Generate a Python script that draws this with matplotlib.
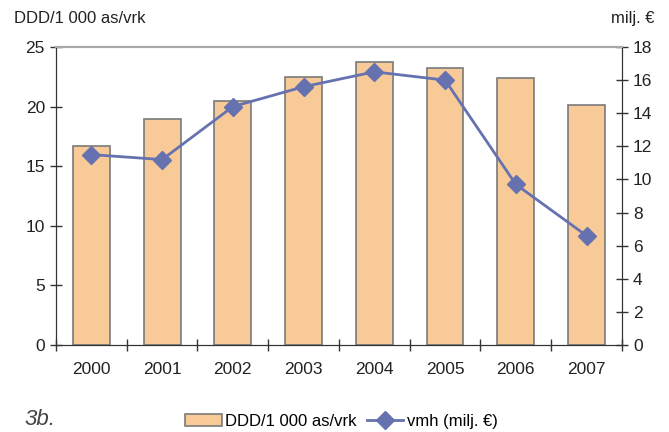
import numpy as np
import matplotlib.pyplot as plt
from matplotlib.ticker import FixedLocator

plt.rcParams['font.family'] = ['Liberation Sans', 'DejaVu Sans']

vuodet = ['2000', '2001', '2002', '2003', '2004', '2005', '2006', '2007']
ddd = [16.7, 19.0, 20.5, 22.5, 23.7, 23.2, 22.4, 20.1]
vmh = [11.5, 11.2, 14.4, 15.6, 16.5, 16.0, 9.7, 6.6]

teksti = '#222222'
fig = plt.figure(figsize=(6.69, 4.32), dpi=100)
ax = fig.add_axes([0.0837, 0.2014, 0.846, 0.6898])
x = np.arange(len(vuodet))

palkit = ax.bar(x, ddd, width=0.52, color='#F7CA98', edgecolor='#7a7a7a',
                linewidth=1.2, label='DDD/1 000 as/vrk', zorder=2)
ax.set_xlim(-0.5, len(vuodet) - 0.5)
ax.set_ylim(0, 25)
ax.set_yticks(np.arange(0, 26, 5))
ax.set_xticks(x)
ax.set_xticklabels(vuodet)
ax.xaxis.set_minor_locator(FixedLocator(np.arange(-0.5, len(vuodet), 1)))
ax.tick_params(axis='x', which='major', length=0, pad=12, labelsize=12.5, colors=teksti)
ax.tick_params(axis='x', which='minor', length=8, direction='inout', width=1, color='#333333')
ax.tick_params(axis='y', length=8, direction='inout', width=1, labelsize=12.5,
               colors=teksti, color='#333333', pad=4)

ax2 = ax.twinx()
viiva, = ax2.plot(x, vmh, color='#6672B0', linewidth=2, marker='D', markersize=9,
                  label='vmh (milj. €)', zorder=3)
ax2.set_ylim(0, 18)
ax2.set_yticks(np.arange(0, 19, 2))
ax2.tick_params(axis='y', length=8, direction='inout', width=1, labelsize=12.5,
                colors=teksti, color='#333333', pad=4)

for a in (ax, ax2):
    a.spines['left'].set_color('#333333')
    a.spines['right'].set_color('#333333')
    a.spines['bottom'].set_color('#333333')
    a.spines['top'].set_color('#a8a8a8')
    a.spines['top'].set_linewidth(1.5)

fig.text(0.021, 0.958, 'DDD/1 000 as/vrk', fontsize=12, color=teksti, va='center')
fig.text(0.979, 0.958, 'milj. €', fontsize=12, color=teksti, va='center', ha='right')
fig.text(0.036, 0.028, '3b.', fontsize=16, style='italic', color='#444444', va='center')

fig.legend([palkit, viiva], ['DDD/1 000 as/vrk', 'vmh (milj. €)'], loc='center',
           bbox_to_anchor=(0.51, 0.025), ncol=2, frameon=False, fontsize=12,
           handlelength=2.2, handletextpad=0.2, columnspacing=0.6)

plt.savefig('out.png', dpi=100)
